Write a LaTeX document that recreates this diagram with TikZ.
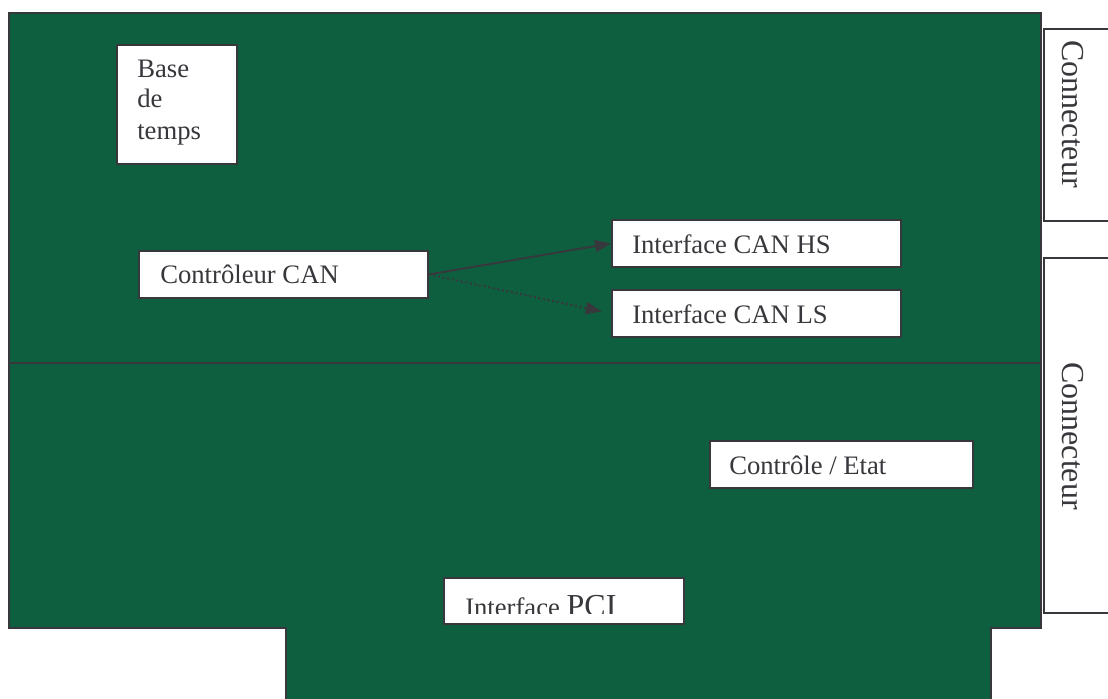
\documentclass[tikz,border=0pt]{standalone}
\usepackage{fontspec}
\setmainfont{Liberation Serif}
\usetikzlibrary{arrows.meta}
\definecolor{board}{RGB}{14,94,64}
\definecolor{ink}{RGB}{55,55,60}
\begin{document}
\begin{tikzpicture}[x=0.75pt,y=-0.75pt,
  box/.style={draw=ink, line width=1.4pt, fill=white, inner sep=0pt, anchor=north west},
  lbl/.style={font=\fontsize{20}{24}\selectfont, text=ink, inner sep=0pt, anchor=base west},
  biglbl/.style={font=\fontsize{24}{28}\selectfont, text=ink, inner sep=0pt, anchor=base west},
  arr/.style={draw=ink, line width=1.4pt, -{Triangle[length=12pt,width=9pt]}}]
\useasboundingbox (0,0) rectangle (1108,699);
\fill[white] (0,0) rectangle (1108,699);
\clip (0,0) rectangle (1108,699);
% board
\draw[draw=ink, fill=board, line width=1.5pt] (9,13) -- (1041,13) -- (1041,628) -- (991,628) -- (991,720) -- (286,720) -- (286,628) -- (9,628) -- cycle;
\draw[draw=ink, line width=1.5pt] (9,363) -- (1041,363);
% connectors
\node (con1) [box, minimum width=60pt, minimum height=144pt] at (1043,28) {};
\node (con2) [box, minimum width=60pt, minimum height=266.25pt] at (1043,257) {};
\node (con1t) [biglbl, rotate=-90] at (1062,40) {Connecteur};
\node (con2t) [biglbl, rotate=-90] at (1062,362) {Connecteur};
% boxes
\node (bt) [box, minimum width=90pt, minimum height=89.25pt] at (116,44) {};
\node (bt1) [lbl] at (137,78) {Base};
\node (bt2) [lbl] at (137,108) {de};
\node (bt3) [lbl] at (137,140) {temps};
\node (ctl) [box, minimum width=216.75pt, minimum height=35.25pt] at (138,250) {};
\node (ctlt) [lbl] at (160,283) {Contrôleur CAN};
\node (hs) [box, minimum width=216.75pt, minimum height=35.25pt] at (611,219) {};
\node (hst) [lbl] at (632,253) {Interface CAN HS};
\node (ls) [box, minimum width=216.75pt, minimum height=35.25pt] at (611,289) {};
\node (lst) [lbl] at (632,323) {Interface CAN LS};
\node (ce) [box, minimum width=197.25pt, minimum height=35.25pt] at (709,440) {};
\node (cet) [lbl] at (729,474) {Contrôle / Etat};
\node (pci) [box, minimum width=180pt, minimum height=34.5pt] at (443,577) {};
\begin{scope}
\clip (443,577) rectangle (683,613);
\node (pcit) [lbl] at (465,616) {Interface {\fontsize{24}{28}\selectfont PCI}};
\end{scope}
% arrows
\draw[arr] (ctl.east) -- (hs.west);
\draw[arr, dash pattern=on 1.5pt off 2pt, shorten >=7pt] (ctl.east) -- (ls.west);
\end{tikzpicture}
\end{document}
